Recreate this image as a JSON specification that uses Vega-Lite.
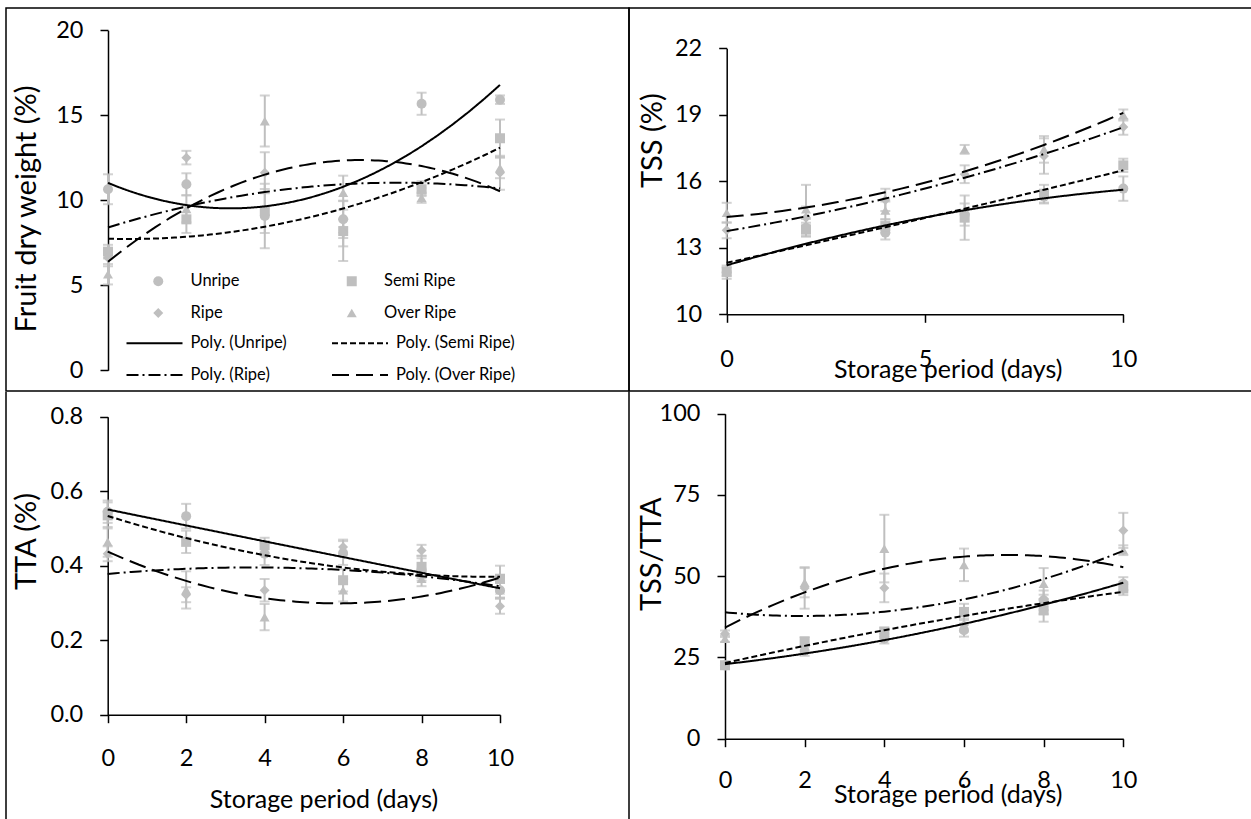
{
  "$schema": "https://vega.github.io/schema/vega-lite/v6.json",
  "background": "white",
  "padding": {"left": 5, "top": 7, "right": 0, "bottom": 0},
  "spacing": -1,
  "resolve": {"scale": {"shape": "independent", "strokeDash": "independent"}},
  "config": {
    "font": "Lato",
    "view": {"stroke": null},
    "axis": {"domain": true, "domainColor": "#000", "domainWidth": 1.5, "grid": false, "ticks": true, "tickColor": "#000", "tickWidth": 1.5, "tickSize": 8,
      "labelFont": "Lato", "labelFontSize": 23.5, "labelColor": "#000", "labelFlush": false, "labelOverlap": false,
      "titleFont": "Lato", "titleFontSize": 25, "titleFontWeight": "normal", "titleColor": "#000"},
    "legend": {"labelFont": "Lato", "labelFontSize": 16.5, "labelColor": "#000", "padding": 0}
  },
  "datasets": {
    "fdw": [
      {"s": "Unripe", "t": "Poly. (Unripe)", "d": 0, "v": 10.65, "e": 0.88}, {"s": "Unripe", "t": "Poly. (Unripe)", "d": 2, "v": 10.94, "e": 0.65}, {"s": "Unripe", "t": "Poly. (Unripe)", "d": 4, "v": 9.08, "e": 1.9}, {"s": "Unripe", "t": "Poly. (Unripe)", "d": 6, "v": 8.88, "e": 1.1}, {"s": "Unripe", "t": "Poly. (Unripe)", "d": 8, "v": 15.68, "e": 0.65}, {"s": "Unripe", "t": "Poly. (Unripe)", "d": 10, "v": 15.92, "e": 0.25},
      {"s": "Semi Ripe", "t": "Poly. (Semi Ripe)", "d": 0, "v": 6.98, "e": 0.4}, {"s": "Semi Ripe", "t": "Poly. (Semi Ripe)", "d": 2, "v": 8.88, "e": 0.8}, {"s": "Semi Ripe", "t": "Poly. (Semi Ripe)", "d": 4, "v": 9.37, "e": 1.3}, {"s": "Semi Ripe", "t": "Poly. (Semi Ripe)", "d": 6, "v": 8.19, "e": 1.76}, {"s": "Semi Ripe", "t": "Poly. (Semi Ripe)", "d": 8, "v": 10.65, "e": 0.4}, {"s": "Semi Ripe", "t": "Poly. (Semi Ripe)", "d": 10, "v": 13.65, "e": 1.1},
      {"s": "Ripe", "t": "Poly. (Ripe)", "d": 0, "v": 6.62, "e": 0.5}, {"s": "Ripe", "t": "Poly. (Ripe)", "d": 2, "v": 12.51, "e": 0.4}, {"s": "Ripe", "t": "Poly. (Ripe)", "d": 4, "v": 11.62, "e": 1.2}, {"s": "Ripe", "t": "Poly. (Ripe)", "d": 6, "v": 8.09, "e": 0.8}, {"s": "Ripe", "t": "Poly. (Ripe)", "d": 8, "v": 10.72, "e": 0.4}, {"s": "Ripe", "t": "Poly. (Ripe)", "d": 10, "v": 11.62, "e": 1.0},
      {"s": "Over Ripe", "t": "Poly. (Over Ripe)", "d": 0, "v": 5.65, "e": 0.6}, {"s": "Over Ripe", "t": "Poly. (Over Ripe)", "d": 2, "v": 9.5, "e": 0.8}, {"s": "Over Ripe", "t": "Poly. (Over Ripe)", "d": 4, "v": 14.66, "e": 1.5}, {"s": "Over Ripe", "t": "Poly. (Over Ripe)", "d": 6, "v": 10.45, "e": 1.0}, {"s": "Over Ripe", "t": "Poly. (Over Ripe)", "d": 8, "v": 10.15, "e": 0.3}, {"s": "Over Ripe", "t": "Poly. (Over Ripe)", "d": 10, "v": 11.9, "e": 0.6}
    ],
    "tss": [
      {"s": "Unripe", "d": 0, "v": 11.9, "e": 0.3}, {"s": "Unripe", "d": 2, "v": 13.9, "e": 0.4}, {"s": "Unripe", "d": 4, "v": 13.68, "e": 0.3}, {"s": "Unripe", "d": 6, "v": 14.5, "e": 0.5}, {"s": "Unripe", "d": 8, "v": 15.3, "e": 0.3}, {"s": "Unripe", "d": 10, "v": 15.67, "e": 0.55},
      {"s": "Semi Ripe", "d": 0, "v": 11.92, "e": 0.2}, {"s": "Semi Ripe", "d": 2, "v": 13.83, "e": 0.3}, {"s": "Semi Ripe", "d": 4, "v": 13.98, "e": 0.3}, {"s": "Semi Ripe", "d": 6, "v": 14.36, "e": 1.0}, {"s": "Semi Ripe", "d": 8, "v": 15.44, "e": 0.4}, {"s": "Semi Ripe", "d": 10, "v": 16.72, "e": 0.3},
      {"s": "Ripe", "d": 0, "v": 13.79, "e": 0.36}, {"s": "Ripe", "d": 2, "v": 14.36, "e": 0.5}, {"s": "Ripe", "d": 4, "v": 15.16, "e": 0.5}, {"s": "Ripe", "d": 6, "v": 16.32, "e": 0.4}, {"s": "Ripe", "d": 8, "v": 17.14, "e": 0.8}, {"s": "Ripe", "d": 10, "v": 18.45, "e": 0.35},
      {"s": "Over Ripe", "d": 0, "v": 14.58, "e": 0.45}, {"s": "Over Ripe", "d": 2, "v": 14.74, "e": 1.1}, {"s": "Over Ripe", "d": 4, "v": 14.69, "e": 0.4}, {"s": "Over Ripe", "d": 6, "v": 17.44, "e": 0.2}, {"s": "Over Ripe", "d": 8, "v": 17.44, "e": 0.6}, {"s": "Over Ripe", "d": 10, "v": 18.99, "e": 0.25}
    ],
    "tta": [
      {"s": "Unripe", "d": 0, "v": 0.545, "e": 0.03}, {"s": "Unripe", "d": 2, "v": 0.533, "e": 0.033}, {"s": "Unripe", "d": 4, "v": 0.432, "e": 0.03}, {"s": "Unripe", "d": 6, "v": 0.434, "e": 0.032}, {"s": "Unripe", "d": 8, "v": 0.39, "e": 0.03}, {"s": "Unripe", "d": 10, "v": 0.334, "e": 0.02},
      {"s": "Semi Ripe", "d": 0, "v": 0.535, "e": 0.035}, {"s": "Semi Ripe", "d": 2, "v": 0.464, "e": 0.03}, {"s": "Semi Ripe", "d": 4, "v": 0.455, "e": 0.02}, {"s": "Semi Ripe", "d": 6, "v": 0.361, "e": 0.03}, {"s": "Semi Ripe", "d": 8, "v": 0.397, "e": 0.03}, {"s": "Semi Ripe", "d": 10, "v": 0.365, "e": 0.035},
      {"s": "Ripe", "d": 0, "v": 0.432, "e": 0.02}, {"s": "Ripe", "d": 2, "v": 0.322, "e": 0.02}, {"s": "Ripe", "d": 4, "v": 0.334, "e": 0.03}, {"s": "Ripe", "d": 6, "v": 0.45, "e": 0.02}, {"s": "Ripe", "d": 8, "v": 0.441, "e": 0.015}, {"s": "Ripe", "d": 10, "v": 0.291, "e": 0.02},
      {"s": "Over Ripe", "d": 0, "v": 0.464, "e": 0.04}, {"s": "Over Ripe", "d": 2, "v": 0.335, "e": 0.05}, {"s": "Over Ripe", "d": 4, "v": 0.262, "e": 0.035}, {"s": "Over Ripe", "d": 6, "v": 0.334, "e": 0.03}, {"s": "Over Ripe", "d": 8, "v": 0.365, "e": 0.02}, {"s": "Over Ripe", "d": 10, "v": 0.334, "e": 0.02}
    ],
    "ratio": [
      {"s": "Unripe", "d": 0, "v": 22.5, "e": 1}, {"s": "Unripe", "d": 2, "v": 27, "e": 1.5}, {"s": "Unripe", "d": 4, "v": 30.8, "e": 1.5}, {"s": "Unripe", "d": 6, "v": 33.4, "e": 2}, {"s": "Unripe", "d": 8, "v": 42.6, "e": 3}, {"s": "Unripe", "d": 10, "v": 47.7, "e": 2},
      {"s": "Semi Ripe", "d": 0, "v": 22.6, "e": 1}, {"s": "Semi Ripe", "d": 2, "v": 29.8, "e": 1.5}, {"s": "Semi Ripe", "d": 4, "v": 32.8, "e": 1.5}, {"s": "Semi Ripe", "d": 6, "v": 39, "e": 2.5}, {"s": "Semi Ripe", "d": 8, "v": 39.5, "e": 3.5}, {"s": "Semi Ripe", "d": 10, "v": 46.2, "e": 2},
      {"s": "Ripe", "d": 0, "v": 32.3, "e": 1}, {"s": "Ripe", "d": 2, "v": 46.4, "e": 6.4}, {"s": "Ripe", "d": 4, "v": 46.4, "e": 4.4}, {"s": "Ripe", "d": 6, "v": 35, "e": 2}, {"s": "Ripe", "d": 8, "v": 41.3, "e": 3}, {"s": "Ripe", "d": 10, "v": 64.1, "e": 5.4},
      {"s": "Over Ripe", "d": 0, "v": 30.8, "e": 1}, {"s": "Over Ripe", "d": 2, "v": 48, "e": 4.5}, {"s": "Over Ripe", "d": 4, "v": 58.5, "e": 10.4}, {"s": "Over Ripe", "d": 6, "v": 53.5, "e": 5}, {"s": "Over Ripe", "d": 8, "v": 47.7, "e": 4.8}, {"s": "Over Ripe", "d": 10, "v": 58, "e": 1.5}
    ]
  },
  "vconcat": [
    {
      "resolve": {"scale": {"shape": "independent", "strokeDash": "independent"}},
      "hconcat": [
        {
          "data": {"name": "fdw"},
          "width": 623, "height": 383,
          "view": {"stroke": "#000", "strokeWidth": 1.5},
          "encoding": {
            "x": {"field": "d", "type": "quantitative", "scale": {"domain": [-2.602, 13.291], "nice": false, "zero": false}, "axis": null},
            "y": {"field": "v", "type": "quantitative", "scale": {"domain": [-1.218, 21.312], "nice": false, "zero": false},
              "axis": {"offset": -102, "values": [0, 5, 10, 15, 20], "domainDash": [0, 20.7, 340, 1000], "labelPadding": 17, "title": "Fruit dry weight (%)", "titleFontSize": 29, "titleX": -82, "titleY": 200.5, "titleBaseline": "middle", "titleAlign": "center", "titleAngle": -90}}
          },
          "layer": [
            {"mark": {"type": "errorbar", "color": "#BFBFBF", "thickness": 2, "ticks": true, "size": 10},
              "encoding": {"yError": {"field": "e"}}},
            {"mark": {"type": "point", "filled": true, "color": "#BFBFBF", "opacity": 1, "size": 100, "strokeWidth": 0},
              "encoding": {"shape": {"field": "s", "type": "nominal",
                "scale": {"domain": ["Unripe", "Semi Ripe", "Ripe", "Over Ripe"], "range": ["circle", "square", "diamond", "triangle-up"]},
                "legend": {"orient": "none", "legendX": 144, "legendY": 265, "columns": 2, "direction": "horizontal", "title": null, "symbolSize": 100,
                  "symbolFillColor": "#BFBFBF", "symbolStrokeWidth": 0, "symbolOffset": 0, "labelOffset": 24, "columnPadding": 103.5,
                  "rowPadding": 15, "clipHeight": 16, "padding": 0}}}},
            {"transform": [{"regression": "v", "on": "d", "groupby": ["t"], "method": "poly", "order": 2}],
              "mark": {"type": "line", "color": "#000", "strokeWidth": 2},
              "encoding": {"strokeDash": {"field": "t", "type": "nominal",
                "scale": {"domain": ["Poly. (Unripe)", "Poly. (Semi Ripe)", "Poly. (Ripe)", "Poly. (Over Ripe)"], "range": [[1, 0], [6, 3], [12, 4, 2, 4], [17, 7]]},
                "legend": {"orient": "none", "legendX": 119.5, "legendY": 327, "columns": 2, "direction": "horizontal", "title": null, "symbolType": "stroke",
                  "symbolSize": 3136, "symbolStrokeColor": "#000", "symbolStrokeWidth": 2, "symbolOffset": 0, "labelOffset": 7,
                  "columnPadding": 43.5, "rowPadding": 15, "clipHeight": 16, "padding": 0}}}}
          ]
        },
        {
          "data": {"name": "tss"},
          "width": 622, "height": 383,
          "view": {"stroke": "#000", "strokeWidth": 1.5, "strokeDash": [622, 383, 1100]},
          "encoding": {
            "x": {"field": "d", "type": "quantitative", "scale": {"domain": [-2.463, 13.22], "nice": false, "zero": false},
              "axis": {"orient": "bottom", "offset": -76.7, "values": [0, 5, 10], "domainDash": [0, 97.7, 396.6, 1000], "labelPadding": 25, "title": "Storage period (days)", "titleX": 318.7, "titleY": 63.4, "titleBaseline": "alphabetic", "titleAlign": "center"}},
            "y": {"field": "v", "type": "quantitative", "scale": {"domain": [6.54, 23.818], "nice": false, "zero": false},
              "axis": {"offset": -97.7, "values": [10, 13, 16, 19, 22], "domainDash": [0, 76.7, 266, 1000], "labelPadding": 17, "title": "TSS (%)", "titleFontSize": 29, "titleX": -74.7, "titleY": 132.2, "titleBaseline": "middle", "titleAlign": "center", "titleAngle": -90}}
          },
          "layer": [
            {"mark": {"type": "errorbar", "color": "#BFBFBF", "thickness": 2, "ticks": true, "size": 10},
              "encoding": {"yError": {"field": "e"}}},
            {"mark": {"type": "point", "filled": true, "color": "#BFBFBF", "opacity": 1, "size": 100, "strokeWidth": 0},
              "encoding": {"shape": {"field": "s", "type": "nominal", "scale": {"domain": ["Unripe", "Semi Ripe", "Ripe", "Over Ripe"], "range": ["circle", "square", "diamond", "triangle-up"]}, "legend": null}}},
            {"transform": [{"regression": "v", "on": "d", "groupby": ["s"], "method": "poly", "order": 2}],
              "mark": {"type": "line", "color": "#000", "strokeWidth": 2},
              "encoding": {"strokeDash": {"field": "s", "type": "nominal",
                "scale": {"domain": ["Unripe", "Semi Ripe", "Ripe", "Over Ripe"], "range": [[1, 0], [6, 3], [12, 4, 2, 4], [17, 7]]}, "legend": null}}}
          ]
        }
      ],
      "spacing": 0,
      "bounds": "flush"
    },
    {
      "resolve": {"scale": {"shape": "independent", "strokeDash": "independent"}},
      "hconcat": [
        {
          "data": {"name": "tta"},
          "width": 623, "height": 428,
          "view": {"stroke": "#000", "strokeWidth": 1.5, "strokeDash": [0, 623, 428, 623, 428, 1000]},
          "encoding": {
            "x": {"field": "d", "type": "quantitative", "scale": {"domain": [-2.592, 13.288], "nice": false, "zero": false},
              "axis": {"orient": "bottom", "offset": -105.3, "values": [0, 2, 4, 6, 8, 10], "domainDash": [0, 101.7, 392.3, 1000], "labelPadding": 24, "title": "Storage period (days)", "titleX": 317.5, "titleY": 92.3, "titleBaseline": "alphabetic", "titleAlign": "center"}},
            "y": {"field": "v", "type": "quantitative", "scale": {"domain": [-0.2827, 0.8663], "nice": false, "zero": false},
              "axis": {"offset": -101.7, "values": [0, 0.2, 0.4, 0.6, 0.8], "format": ".1f", "domainDash": [0, 105.3, 298, 1000], "labelPadding": 17, "title": "TTA (%)", "titleFontSize": 29, "titleX": -81, "titleY": 149, "titleBaseline": "middle", "titleAlign": "center", "titleAngle": -90}}
          },
          "layer": [
            {"mark": {"type": "errorbar", "color": "#BFBFBF", "thickness": 2, "ticks": true, "size": 10},
              "encoding": {"yError": {"field": "e"}}},
            {"mark": {"type": "point", "filled": true, "color": "#BFBFBF", "opacity": 1, "size": 100, "strokeWidth": 0},
              "encoding": {"shape": {"field": "s", "type": "nominal", "scale": {"domain": ["Unripe", "Semi Ripe", "Ripe", "Over Ripe"], "range": ["circle", "square", "diamond", "triangle-up"]}, "legend": null}}},
            {"transform": [{"regression": "v", "on": "d", "groupby": ["s"], "method": "poly", "order": 2}],
              "mark": {"type": "line", "color": "#000", "strokeWidth": 2},
              "encoding": {"strokeDash": {"field": "s", "type": "nominal",
                "scale": {"domain": ["Unripe", "Semi Ripe", "Ripe", "Over Ripe"], "range": [[1, 0], [6, 3], [12, 4, 2, 4], [17, 7]]}, "legend": null}}}
          ]
        },
        {
          "data": {"name": "ratio"},
          "width": 622, "height": 428,
          "encoding": {
            "x": {"field": "d", "type": "quantitative", "scale": {"domain": [-2.41, 13.206], "nice": false, "zero": false},
              "axis": {"orient": "bottom", "offset": -81.3, "values": [0, 2, 4, 6, 8, 10], "domainDash": [0, 96, 398.3, 1000], "labelPadding": 21.7, "title": "Storage period (days)", "titleX": 318.7, "titleY": 63.3, "titleBaseline": "alphabetic", "titleAlign": "center"}},
            "y": {"field": "v", "type": "quantitative", "scale": {"domain": [-25.02, 106.68], "nice": false, "zero": false},
              "axis": {"offset": -96, "values": [0, 25, 50, 75, 100], "domainDash": [0, 81.3, 325, 1000], "labelPadding": 17, "title": "TSS/TTA", "titleFontSize": 29, "titleX": -73.2, "titleY": 161.7, "titleBaseline": "middle", "titleAlign": "center", "titleAngle": -90}}
          },
          "layer": [
            {"mark": {"type": "errorbar", "color": "#BFBFBF", "thickness": 2, "ticks": true, "size": 10},
              "encoding": {"yError": {"field": "e"}}},
            {"mark": {"type": "point", "filled": true, "color": "#BFBFBF", "opacity": 1, "size": 100, "strokeWidth": 0},
              "encoding": {"shape": {"field": "s", "type": "nominal", "scale": {"domain": ["Unripe", "Semi Ripe", "Ripe", "Over Ripe"], "range": ["circle", "square", "diamond", "triangle-up"]}, "legend": null}}},
            {"transform": [{"regression": "v", "on": "d", "groupby": ["s"], "method": "poly", "order": 2}],
              "mark": {"type": "line", "color": "#000", "strokeWidth": 2},
              "encoding": {"strokeDash": {"field": "s", "type": "nominal",
                "scale": {"domain": ["Unripe", "Semi Ripe", "Ripe", "Over Ripe"], "range": [[1, 0], [6, 3], [12, 4, 2, 4], [17, 7]]}, "legend": null}}}
          ]
        }
      ],
      "spacing": 0,
      "bounds": "flush"
    }
  ]
}
